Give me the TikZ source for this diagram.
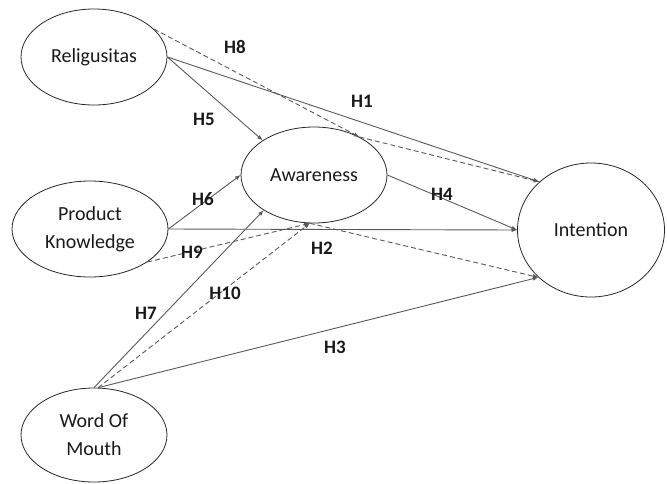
\documentclass[tikz,border=0pt]{standalone}
\usepackage{fontspec}
\setmainfont{Carlito}
\usetikzlibrary{shapes.geometric}
\begin{document}
\begin{tikzpicture}[x=1pt, y=-1pt,
          every node/.style = {align=center, text=black!90},
          latent/.style = {shape=ellipse, draw=black!85, line width=0.8pt, inner sep=0pt,
            font=\fontsize{20}{28}\selectfont, minimum width=146pt, minimum height=96pt},
          hyp/.style = {font=\fontsize{19}{22}\selectfont\bfseries, inner sep=1pt},
          path/.style = {draw=black!65, line width=0.9pt, -latex},
          med/.style = {path, dashed, dash pattern=on 5pt off 3pt}]
          \useasboundingbox (0,0) rectangle (667,483);
          \node[latent] (rel) at (94, 57) {Religusitas};
          \node[latent, minimum width=156pt] (pk) at (90, 229) {Product\\Knowledge};
          \node[latent, minimum height=94pt] (wom) at (94, 435) {Word Of\\Mouth};
          \node[latent] (aw) at (314, 175) {Awareness};
          \node[latent, minimum width=147pt, minimum height=134pt] (int) at (591, 230) {Intention};
          % direct paths
          \draw[path] (rel.east) -- (int.137);
          \draw[path] (rel.east) -- (aw.146);
          \draw[path] (pk.east) -- (aw.west);
          \draw[path] (pk.east) -- (int.west);
          \draw[path] (wom.north) -- (aw.215);
          \draw[path] (wom.85) -- (int.222);
          \draw[path] (aw.east) -- (int.west);
          % mediated paths
          \draw[med] (rel.25) -- (aw.40);
          \draw[med, -latex] (aw.40) -- (int.137);
          \draw[med] (pk.330) -- (aw.265);
          \draw[med] (wom.85) -- (aw.265);
          \draw[med] (aw.265) -- (int.222);
          % labels
          \node[hyp] (h1) at (362, 101) {H1};
          \node[hyp] (h2) at (322, 248) {H2};
          \node[hyp] (h3) at (335, 347) {H3};
          \node[hyp] (h4) at (442, 194) {H4};
          \node[hyp] (h5) at (204, 119) {H5};
          \node[hyp] (h6) at (203, 199) {H6};
          \node[hyp] (h7) at (146, 313) {H7};
          \node[hyp] (h8) at (235, 47) {H8};
          \node[hyp] (h9) at (192, 252) {H9};
          \node[hyp] (h10) at (225, 293) {H10};
        \end{tikzpicture}
\end{document}
